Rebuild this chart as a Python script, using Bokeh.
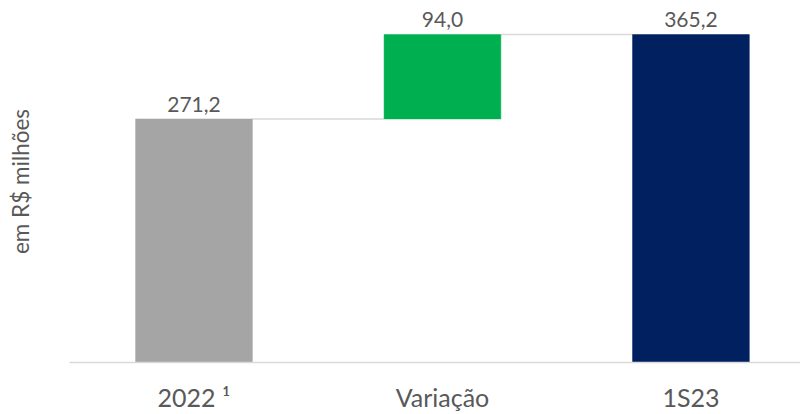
from bokeh.plotting import figure
from bokeh.models import ColumnDataSource, FixedTicker, Range1d
from bokeh.core.properties import value
from bokeh.transform import dodge
from bokeh.embed import file_html
from bokeh.resources import INLINE

# ---- data ----
categories = ["2022 \u00b9", "Varia\u00e7\u00e3o", "1S23"]
values = [271.2, 94.0, 365.2]
kinds = ["total", "delta", "total"]
colors = ["#a5a5a5", "#00b050", "#002060"]
y_label = "em R$ milh\u00f5es"

# ---- waterfall geometry from data ----
positions = list(range(len(categories)))
bottoms, tops = [], []
running = 0.0
for v, k in zip(values, kinds):
    if k == "total":
        bottoms.append(0.0)
        tops.append(v)
        running = v
    else:
        bottoms.append(running)
        running += v
        tops.append(running)
labels = [f"{v:.1f}".replace(".", ",") for v in values]

bar_w = 0.47
label_gap = 8.0  # small gap (data units) between bar top and its label
src = ColumnDataSource(dict(x=positions, bottom=bottoms, top=tops, color=colors, label=labels))

FONT = "Lato"
TXT = "#595959"

p = figure(width=800, height=414, output_backend="svg", toolbar_location=None,
           x_range=Range1d(-0.501, 2.441), y_range=Range1d(0, 403.1),
           min_border_left=69, min_border_right=0, min_border_top=0, min_border_bottom=50)
p.outline_line_color = None
p.xgrid.visible = False
p.ygrid.visible = False
p.background_fill_color = "white"
p.border_fill_color = "white"

# connectors
cx0 = [positions[i] + bar_w / 2 for i in range(len(positions) - 1)]
cx1 = [positions[i + 1] - bar_w / 2 for i in range(len(positions) - 1)]
cy = [tops[i] for i in range(len(positions) - 1)]
p.segment(x0=cx0, x1=cx1, y0=cy, y1=cy, line_color="#d9d9d9", line_width=1.5)

p.vbar(x="x", bottom="bottom", top="top", width=bar_w, fill_color="color",
       line_color="color", line_width=0.5, source=src)

p.text(x="x", y=dodge("top", label_gap, range=p.y_range), text="label", source=src,
       text_align="center", text_baseline="bottom", text_color=TXT,
       text_font=value(FONT), text_font_size="21px")

# x axis
xa = p.xaxis[0]
xa.ticker = FixedTicker(ticks=positions)
xa.major_label_overrides = {i: c for i, c in zip(positions, categories)}
xa.major_tick_line_color = None
xa.minor_tick_line_color = None
xa.major_tick_out = 0
xa.major_tick_in = 0
xa.axis_line_color = "#d9d9d9"
xa.axis_line_width = 1.5
xa.major_label_text_font = FONT
xa.major_label_text_font_size = "25px"
xa.major_label_text_color = TXT
xa.major_label_standoff = 19

# y axis (label only)
ya = p.yaxis[0]
ya.ticker = FixedTicker(ticks=[])
ya.major_tick_line_color = None
ya.minor_tick_line_color = None
ya.major_tick_out = 0
ya.major_tick_in = 0
ya.axis_line_color = None
ya.axis_label = y_label
ya.axis_label_text_font = FONT
ya.axis_label_text_font_style = "normal"
ya.axis_label_text_font_size = "22.5px"
ya.axis_label_text_color = TXT
ya.axis_label_standoff = 36

open("out.html", "w").write(file_html(p, INLINE))
